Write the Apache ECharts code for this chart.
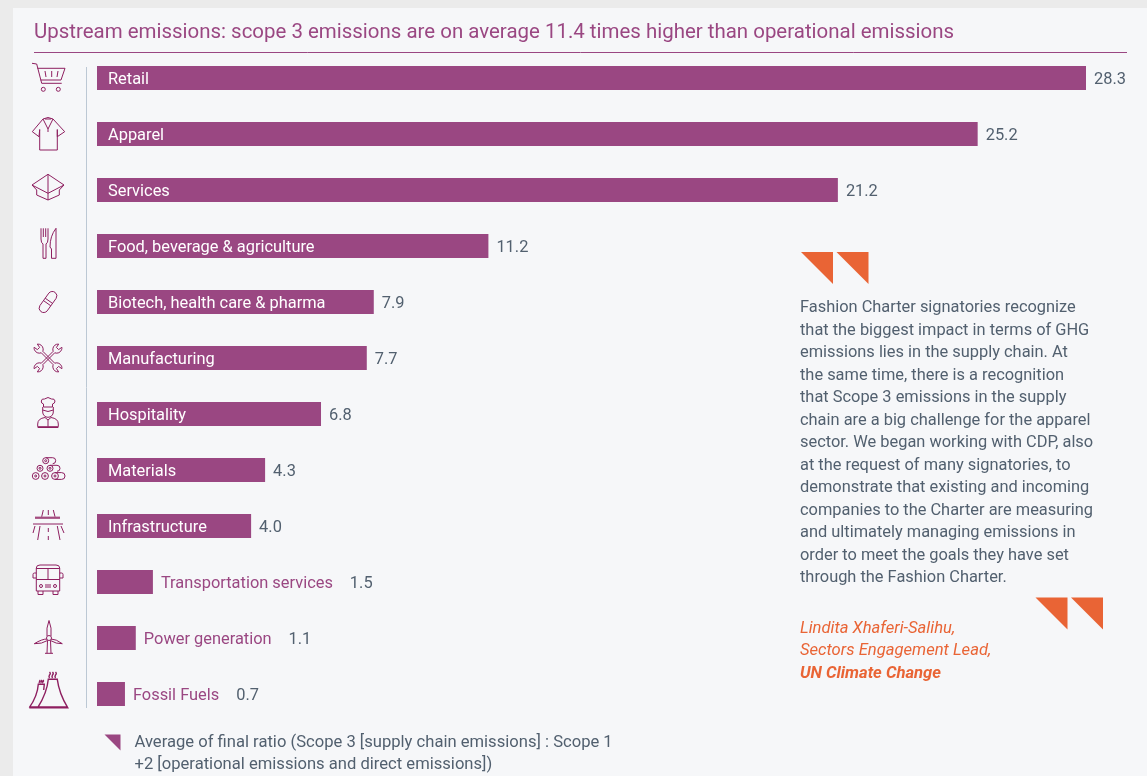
<!DOCTYPE html>
<html>
<head>
<meta charset="utf-8">
<title>Upstream emissions</title>
<style>
  html, body { margin: 0; padding: 0; background: #ebebeb; }
  #chart { width: 1147px; height: 776px; }
</style>
<script src="https://cdn.jsdelivr.net/npm/echarts@6/dist/echarts.min.js"></script>
</head>
<body>
<div id="chart"></div>
<script>
const categories = ['Retail', 'Apparel', 'Services', 'Food, beverage & agriculture', 'Biotech, health care & pharma',
  'Manufacturing', 'Hospitality', 'Materials', 'Infrastructure', 'Transportation services', 'Power generation', 'Fossil Fuels']
// printed next to each bar
const ratioLabels = ['28.3', '25.2', '21.2', '11.2', '7.9', '7.7', '6.8', '4.3', '4.0', '1.5', '1.1', '0.7']
// bar lengths as drawn, the short ones in the source are not quite to scale with the printed number
const barLengths = [28.3, 25.2, 21.2, 11.2, 7.92, 7.72, 6.41, 4.81, 4.41, 1.6, 1.11, 0.8]
const titleText = 'Upstream emissions: scope 3 emissions are on average 11.4 times higher than operational emissions'
const quoteLines = [
  'Fashion Charter signatories recognize',
  'that the biggest impact in terms of GHG',
  'emissions lies in the supply chain. At',
  'the same time, there is a recognition',
  'that Scope 3 emissions in the supply',
  'chain are a big challenge for the apparel',
  'sector. We began working with CDP, also',
  'at the request of many signatories, to',
  'demonstrate that existing and incoming',
  'companies to the Charter are measuring',
  'and ultimately managing emissions in',
  'order to meet the goals they have set',
  'through the Fashion Charter.'
]
const authorLines = ['Lindita Xhaferi-Salihu,', 'Sectors Engagement Lead,']
const authorOrg = 'UN Climate Change'
const legendLines = ['Average of final ratio (Scope 3 [supply chain emissions] : Scope 1', '+2 [operational emissions and direct emissions])']

const PURPLE = '#9a4782'
const ORANGE = '#e96435'
const GREY = '#52606f'
const ICON = '#8e1f60'
const FONT = 'Roboto'
const BODY_SIZE = 16.4

// little helpers for the line icons, everything is relative to the middle of the row
const circ = (x, y, r) => `M${x + r},${y} a${r},${r} 0 1 0 ${-2 * r},0 a${r},${r} 0 1 0 ${2 * r},0 Z `
const wrench = (s, f) => `M${s * -6.7},-5.2 A5.3,5.3 0 0 ${f} ${s * -13.9},-10.7 L${s * -10.6},-8.4 L${s * -8.4},-10.6 L${s * -10.7},-13.9 ` +
  `A5.3,5.3 0 0 ${f} ${s * -5.2},-6.7 L${s * 6.7},5.2 A5.3,5.3 0 0 ${f} ${s * 13.9},10.7 L${s * 10.6},8.4 L${s * 8.4},10.6 L${s * 10.7},13.9 ` +
  `A5.3,5.3 0 0 ${f} ${s * 5.2},6.7 Z `

const iconPaths = [
  // cart
  'M-16,-14.7 L-11.3,-14 L-6.3,5.3 H13.7 M-10.5,-9.7 H17 L13,2 H-7.5 M-3,-7 L-2,-1 M3.7,-7 V-1 M10,-7 L9,-1 ' + circ(-4.7, 11.3, 2) + circ(10.3, 11.3, 2),
  // shirt
  'M-5,-15 L-15.7,-2.3 L-9,2.7 L-8.3,-4.5 V16 H9.3 V-4.5 L9.3,2.7 L16.7,-2.3 L5,-15 L0,-16.5 Z M-5,-15 L0,-5 L5,-15 M0,-5 V-2 M-3,-15 H3',
  // box
  'M0,-15.7 L16,-5 L0,3.3 L-16,-5 Z M0,-15.7 V10 M-16,-5 L-11.3,0 V5 L0,10 L11.3,5 V0 L16,-5',
  // fork and knife
  'M-7,-17.7 V-7 Q-7,-3 -5,-2 V12.3 H-2 V-2 Q0,-3 0,-7 V-17.7 M-4.7,-17.7 V-9 M-2.3,-17.7 V-9 M8,-17.7 V12.3 H3.5 V3 L2,1 Q2,-10 8,-17.7 Z',
  // pill
  'M8.16,-3.7 L-0.84,8.9 A4.5,4.5 0 0 1 -8.16,3.7 L0.84,-8.9 A4.5,4.5 0 0 1 8.16,-3.7 Z M-2.8,-3.8 L4.5,1.4 M-4.5,-1.4 L2.8,3.8',
  // crossed wrenches
  wrench(1, 1) + wrench(-1, 0),
  // chef
  'M-4.5,-7 V-10 Q-7,-10.5 -6.7,-13 Q-6.5,-15.5 -3.5,-15 Q0,-18 3.5,-15 Q6.7,-15.5 7,-13 Q7,-10.5 4.5,-10 V-7 Z M-5.3,-7 V-2 A5.3,5.3 0 0 0 5.3,-2 V-7 M-5.3,-4 Q0,-1 5.3,-4 ' +
    'M-10.3,12.7 V10 Q-10.3,4.5 -3,3.5 L0,6 L3,3.5 Q10.3,4.5 10.3,10 V12.7 Z M0,6 V12.7 M-10.3,13.5 H10.3',
  // logs
  circ(-2.3, -9.3, 3) + circ(-2.3, -9.3, 1) + 'M-2.3,-12.3 H4.7 A3,3 0 0 1 4.7,-6.3 ' +
    circ(-8, -1.7, 3) + circ(-8, -1.7, 1) + circ(2, -1.7, 3) + circ(2, -1.7, 1) + 'M2,-4.7 H9 A3,3 0 0 1 9,1.3 ' +
    circ(-12.3, 6, 3.4) + circ(-12.3, 6, 1) + circ(-3, 6, 3.4) + circ(-3, 6, 1) + circ(7, 6, 3.4) + circ(7, 6, 1) + 'M7,2.6 H13.6 A3.4,3.4 0 0 1 13.6,9.4 H7',
  // road
  'M-13,-8.8 H12 M-13,-7.8 H12 M-15,-2 H15 M-4.7,-16 L-6.3,-9.3 M0.3,-16 V-11 M5.3,-16 L7,-9.3 M-8,0 L-10.3,14 M-13,0 L-15,7 M9.3,0 L12,14 M13,0 L16,7 M0.3,2 V6 M0.3,10 V14',
  // bus
  'M-11.7,-14 Q-11.7,-17 -8,-17 H8 Q11.7,-17 11.7,-14 V9 H-11.7 Z M-11.7,-13.5 H11.7 M-11.7,-2.5 H11.7 M0,-13.5 V-2.5 M-3,3 H3 M-3,5 H3 ' + circ(-7, 4, 1.5) + circ(7, 4, 1.5) +
    'M-10,9 V12.5 H-5 V9 M5,9 V12.5 H10 V9 M-11.7,-9 H-13.5 Q-15,-9 -15,-7.5 V-4 H-11.7 M11.7,-9 H13.5 Q15,-9 15,-7.5 V-4 H11.7',
  // wind turbine
  circ(1, 0, 2.5) + 'M-1,-2 Q-2,-10 1,-17.5 Q4,-10 3,-2 M-1,1 Q-6,1 -13.7,5.7 Q-6,6 -0.5,2.5 M3,1 Q8,1 14.3,5.7 Q8,6 2.5,2.5 M-0.5,2.5 L-1,15.3 M2.5,2.5 L3,15.3 M-3,15.3 H5',
  // cooling towers
  'M-10.3,13.7 Q-1,-1 0.3,-14.7 H9.3 Q11,-1 19.7,13.7 Z M-18.7,13.7 Q-10.5,2 -9.7,-9.7 H-3.7 L-4.3,-4 M-18.7,13.7 H-10.3 M-18.7,12.9 H19.7 ' +
    'M1.5,-22 Q3,-20.5 1.5,-19 Q0.5,-17.5 1.5,-16 M4.5,-22 Q6,-20.5 4.5,-19 Q3.5,-17.5 4.5,-16 M7.5,-22 Q9,-20.5 7.5,-19 Q6.5,-17.5 7.5,-16 ' +
    'M-8.5,-14 Q-7.5,-13 -8.5,-12.5 Q-9,-11.7 -8.5,-11 M-6.7,-14 Q-5.7,-13 -6.7,-12.5 Q-7.2,-11.7 -6.7,-11 M-5,-14 Q-4,-13 -5,-12.5 Q-5.5,-11.7 -5,-11'
]

// bars too short to hold their name carry it to the right instead
const nameOutside = v => v < 2

const textEl = (text, x, y, fill, extra) => ({
  type: 'text',
  x: x,
  y: y,
  silent: true,
  style: Object.assign({ text: text, fill: fill, font: BODY_SIZE + 'px ' + FONT, verticalAlign: 'middle', lineHeight: 22.5 }, extra)
})
const triangle = (x, y, size, fill) => ({
  type: 'polygon',
  silent: true,
  shape: { points: [[x, y], [x + size, y], [x + size, y + size]] },
  style: { fill: fill }
})

const chart = echarts.init(document.getElementById('chart'))

chart.setOption({
  animation: false,
  backgroundColor: '#ebebeb',
  textStyle: { fontFamily: FONT },
  title: {
    text: titleText,
    left: 34,
    top: 21,
    padding: 0,
    textStyle: { color: PURPLE, fontSize: 20.47, fontWeight: 'normal', fontFamily: FONT, lineHeight: 24 }
  },
  grid: { left: 97, right: 61, top: 50, height: 672 },
  xAxis: { type: 'value', min: 0, max: 28.3, show: false },
  yAxis: { type: 'category', data: categories, inverse: true, show: false },
  series: [{
    name: 'ratio',
    type: 'bar',
    data: barLengths,
    barWidth: 24,
    itemStyle: { color: PURPLE },
    silent: true,
    label: {
      show: true,
      position: 'insideLeft',
      distance: 11,
      offset: [0, 2],
      color: '#fff',
      fontSize: BODY_SIZE,
      fontFamily: FONT,
      formatter: p => nameOutside(p.value) ? '' : p.name
    }
  }, {
    // invisible twin of the bars, only there to hang the labels off the bar end
    name: 'labels',
    type: 'bar',
    data: barLengths,
    barWidth: 24,
    barGap: '-100%',
    itemStyle: { color: 'transparent' },
    silent: true,
    label: {
      show: true,
      position: 'right',
      distance: 8,
      offset: [0, 2],
      fontSize: BODY_SIZE,
      fontFamily: FONT,
      color: GREY,
      formatter: p => nameOutside(p.value)
        ? '{n|' + p.name + '}{v|' + ratioLabels[p.dataIndex] + '}'
        : ratioLabels[p.dataIndex],
      rich: {
        n: { color: PURPLE, fontSize: BODY_SIZE, fontFamily: FONT },
        v: { color: GREY, fontSize: BODY_SIZE, fontFamily: FONT, padding: [0, 0, 0, 17] }
      }
    }
  }, {
    name: 'icons',
    type: 'custom',
    silent: true,
    data: categories.map((c, i) => [0, i]),
    encode: { x: 0, y: 1 },
    renderItem: (params, api) => {
      const pos = api.coord([0, api.value(1)])
      const i = params.dataIndex
      return {
        type: 'path',
        x: pos[0] - 49,
        y: pos[1],
        // the two extra moves pin the bounding box so the path stays at scale 1
        shape: { pathData: 'M-24,-24 M24,24 ' + iconPaths[i], x: -24, y: -24, width: 48, height: 48, layout: 'cover' },
        style: { fill: 'none', stroke: ICON, lineWidth: i === 11 ? 1.4 : 1 }
      }
    }
  }],
  graphic: [
    { type: 'rect', z: -1, silent: true, shape: { x: 13, y: 8, width: 1134, height: 768 }, style: { fill: '#f6f7f9' } },
    { type: 'line', silent: true, shape: { x1: 34, y1: 52.5, x2: 1127, y2: 52.5 }, style: { stroke: PURPLE, lineWidth: 1 } },
    { type: 'line', silent: true, shape: { x1: 86.5, y1: 67, x2: 86.5, y2: 708 }, style: { stroke: '#bcc8d4', lineWidth: 1 } },
    triangle(801, 252, 32, ORANGE),
    triangle(836.5, 252, 32, ORANGE),
    triangle(1035.5, 597.5, 32, ORANGE),
    triangle(1071, 597.5, 32, ORANGE),
    triangle(104.5, 734.5, 16, PURPLE),
    ...quoteLines.map((t, i) => textEl(t, 800, 308 + i * 22.5, GREY)),
    ...authorLines.map((t, i) => textEl(t, 800, 628.5 + i * 22.5, ORANGE, { font: 'italic 16.6px ' + FONT })),
    textEl(authorOrg, 800, 673.5, ORANGE, { font: 'italic bold 16.6px ' + FONT }),
    ...legendLines.map((t, i) => textEl(t, 134.5, 742.5 + i * 22, GREY, { font: '16.6px ' + FONT }))
  ]
})
</script>
</body>
</html>
